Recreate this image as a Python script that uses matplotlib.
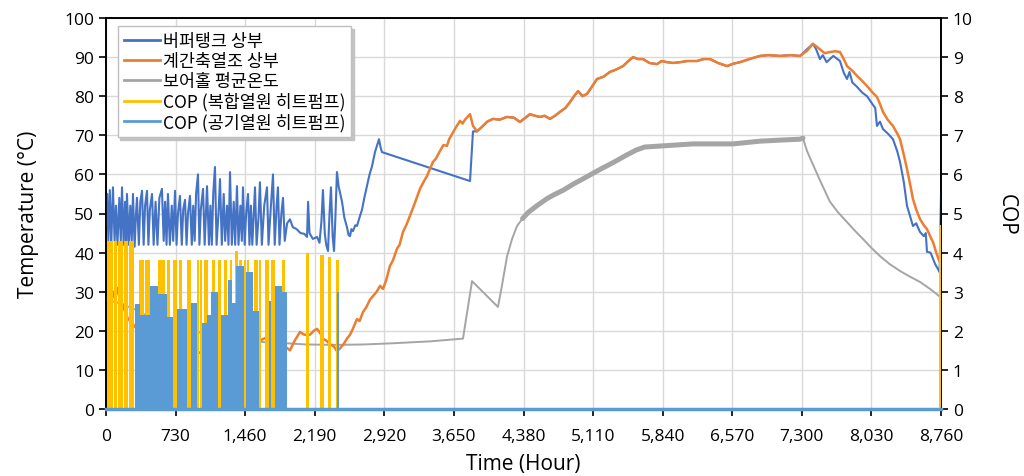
import numpy as np
import matplotlib.pyplot as plt
from matplotlib.lines import Line2D

# hourly temperatures (hour, degC)
buffer_hours = [0, 12, 25, 40, 55, 73, 90, 105, 120, 140, 155, 168, 185, 200, 212, 220, 240, 255, 270, 283,
                300, 315, 325, 345, 360, 378, 395, 410, 430, 445, 460, 483, 500, 520, 540, 560, 587, 605, 620, 635,
                650, 670, 690, 705, 724, 740, 755, 776, 795, 810, 829, 845, 860, 881, 900, 915, 930, 945, 965, 980,
                995, 1018, 1035, 1060, 1080, 1095, 1110, 1125, 1143, 1160, 1180, 1196, 1215, 1235, 1250, 1270, 1285, 1301, 1320, 1340,
                1355, 1374, 1390, 1410, 1425, 1437, 1455, 1470, 1490, 1505, 1520, 1535, 1563, 1580, 1600, 1615, 1635, 1660, 1689, 1705,
                1725, 1752, 1770, 1790, 1804, 1820, 1840, 1857, 1875, 1900, 1930, 1960, 2000, 2040, 2080, 2109, 2120, 2135, 2170, 2214,
                2240, 2260, 2276, 2295, 2310, 2329, 2345, 2360, 2378, 2392, 2405, 2423, 2440, 2476, 2500, 2528, 2545, 2560, 2575, 2591,
                2615, 2633, 2660, 2686, 2710, 2738, 2765, 2790, 2822, 2864, 2880, 2895, 3819, 3850, 3892, 3955, 4000, 4060, 4130, 4207,
                4280, 4343, 4400, 4448, 4500, 4553, 4600, 4658, 4710, 4763, 4820, 4868, 4910, 4952, 5000, 5046, 5100, 5151, 5220, 5287,
                5350, 5424, 5480, 5529, 5580, 5634, 5700, 5780, 5830, 5885, 5950, 6022, 6100, 6200, 6270, 6337, 6420, 6515, 6580, 6651,
                6750, 6861, 6950, 7071, 7180, 7281, 7312, 7354, 7417, 7450, 7490, 7520, 7560, 7595, 7630, 7700, 7740, 7774, 7800, 7830,
                7879, 7930, 7984, 8040, 8070, 8088, 8120, 8151, 8200, 8256, 8300, 8330, 8370, 8403, 8440, 8466, 8500, 8539, 8580, 8600,
                8613, 8650, 8676, 8700, 8728, 8745, 8760]
buffer_temp = [47, 55, 43, 56, 42, 56.7, 43, 52, 42, 54, 43, 56.7, 42, 53, 43, 55, 42, 52, 43, 55,
               41.5, 50, 54, 42, 53, 55.8, 42, 52, 55.8, 42, 51, 55, 42, 53, 42, 54, 56.3, 43, 53, 42,
               55, 42, 52, 43, 55.8, 42, 50, 54.5, 42, 51, 53.5, 42, 50, 54.5, 42, 52, 43, 55, 60, 42,
               51, 56.3, 42, 57, 42, 52, 42, 55, 61.9, 42, 50, 58.8, 42, 55, 43, 52, 42, 60.6, 42, 53,
               42, 57, 42, 52, 43, 56.7, 42, 50, 55, 42, 52, 42, 56.7, 42, 49, 58, 42, 52, 56.7, 42,
               50, 60, 42, 52, 56.7, 42, 50, 54, 43, 47.5, 48.5, 46.5, 46, 45, 44.8, 44, 53, 45, 43.5, 44,
               42.5, 48, 56, 45, 42, 40.4, 50, 56.7, 44, 40.4, 48, 60.6, 57, 53, 49, 46.5, 44.5, 44.2, 46, 45.5,
               47, 46.8, 49, 51, 54, 57, 60, 62, 65.7, 69, 67, 65.7, 58.3, 71, 71, 72.4, 73.5, 74.2, 74, 74.7,
               74.5, 73.4, 74.5, 75.4, 75, 74.7, 75, 74.2, 75, 76, 77, 78.5, 80, 81.3, 80, 80.6, 82.5, 84.4, 85, 86.2,
               86.8, 87.7, 89, 90, 89.5, 89.5, 88.5, 88.2, 89, 88.7, 88.5, 88.7, 89, 89, 89.5, 89.5, 88.5, 87.7, 88.3, 88.7,
               89.5, 90.3, 90.5, 90.3, 90.5, 90.3, 91, 92, 93.4, 92, 89.5, 90.5, 88.7, 89.5, 90.3, 89, 86, 84.4, 86.2, 83.5,
               82.4, 81, 80, 78, 77, 72.4, 73.5, 71.6, 70.5, 69, 66, 63.2, 58, 52, 49, 46.8, 47.5, 45.3, 44.2, 45,
               40.2, 40, 38.4, 37, 35.8, 35, 55]

storage_hours = [0, 25, 42, 60, 73, 95, 110, 126, 150, 168, 200, 231, 260, 304, 380, 462, 560, 671, 750, 829,
                 880, 934, 990, 1039, 1090, 1143, 1220, 1301, 1380, 1458, 1530, 1615, 1700, 1773, 1830, 1878, 1930, 1980, 2035, 2080,
                 2140, 2180, 2214, 2245, 2276, 2310, 2350, 2390, 2423, 2455, 2490, 2528, 2560, 2590, 2633, 2660, 2696, 2730, 2770, 2801,
                 2840, 2875, 2906, 2940, 2979, 3010, 3053, 3080, 3116, 3150, 3189, 3230, 3260, 3294, 3330, 3368, 3400, 3431, 3460, 3504,
                 3540, 3577, 3600, 3630, 3670, 3714, 3740, 3766, 3819, 3850, 3892, 3955, 4000, 4060, 4130, 4207, 4280, 4343, 4400, 4448,
                 4500, 4553, 4600, 4658, 4710, 4763, 4820, 4868, 4910, 4952, 5000, 5046, 5100, 5151, 5220, 5287, 5350, 5424, 5480, 5529,
                 5580, 5634, 5700, 5780, 5830, 5885, 5950, 6022, 6100, 6200, 6270, 6337, 6420, 6515, 6580, 6651, 6750, 6861, 6950, 7071,
                 7180, 7281, 7354, 7417, 7490, 7540, 7595, 7650, 7700, 7740, 7774, 7830, 7879, 7930, 7984, 8040, 8088, 8120, 8151, 8200,
                 8256, 8300, 8330, 8370, 8403, 8440, 8466, 8500, 8539, 8580, 8613, 8650, 8676, 8710, 8740]
storage_temp = [28, 29, 30.5, 29, 30, 28, 29.5, 31, 28, 27, 25, 23, 22.5, 21, 20, 19, 18, 17, 16, 15.5,
                16, 14, 14.5, 13.5, 14.5, 15, 14.5, 15.5, 16, 16.5, 17, 17.5, 18.5, 18, 17, 16, 15, 17.5, 19.7, 19,
                19, 20, 20.5, 19.5, 18, 17.5, 16.6, 16, 14.8, 15.5, 16.5, 18, 19, 20.5, 23, 22.5, 24.8, 26, 28, 28.9,
                30, 31.5, 30.7, 33, 36.6, 38, 41, 42, 45.3, 47, 49.4, 52, 54, 56.3, 58, 59.6, 61.5, 63.2, 64, 66,
                67.5, 67.3, 69, 70.3, 72, 73.7, 73, 74, 75.4, 72.4, 71, 72.4, 73.5, 74.2, 74, 74.7, 74.5, 73.4, 74.5, 75.4,
                75, 74.7, 75, 74.2, 75, 76, 77, 78.5, 80, 81.3, 80, 80.6, 82.5, 84.4, 85, 86.2, 86.8, 87.7, 89, 90,
                89.5, 89.5, 88.5, 88.2, 89, 88.7, 88.5, 88.7, 89, 89, 89.5, 89.5, 88.5, 87.7, 88.3, 88.7, 89.5, 90.3, 90.5, 90.3,
                90.5, 90.3, 91.6, 93.4, 92, 91, 91.3, 91.5, 91.3, 89.5, 87.7, 86.5, 85.2, 84, 82.6, 81, 79.8, 78, 76, 74,
                72.4, 70.5, 69, 65, 61.4, 57, 53.7, 51, 48.6, 47, 46, 44, 42.7, 40, 38]

borehole_hours = [0, 150, 300, 500, 700, 900, 1100, 1300, 1500, 1700, 1900, 2100, 2400, 2700, 3000, 3400, 3745, 3840, 4112, 4150,
                  4207, 4260, 4312, 4370, 4430, 4521, 4626, 4700, 4800, 4900, 5000, 5110, 5200, 5319, 5450, 5560, 5650, 5843, 6158, 6577,
                  6861, 7100, 7281, 7312, 7354, 7417, 7490, 7595, 7680, 7774, 7860, 7941, 8030, 8120, 8220, 8330, 8430, 8539, 8640, 8740]
borehole_temp = [28, 27, 25.5, 23, 21.5, 20, 19, 18.3, 17.5, 17, 16.8, 16.5, 16.4, 16.5, 16.8, 17.3, 18, 32.7, 26.1, 31,
                 39, 43.5, 46.8, 48.7, 50.3, 52, 53.8, 54.8, 56, 57.5, 58.8, 60.3, 61.5, 63, 64.8, 66.2, 67, 67.3, 67.8, 67.8,
                 68.5, 68.8, 69, 69.3, 66, 62.5, 58.5, 53, 50.3, 47.8, 45.5, 43.5, 41.2, 39.1, 37.1, 35.3, 33.9, 32.5, 30.8, 28.9]

# heat pump operating periods: start hour, end hour, COP
hybrid_start = [10, 80, 125, 185, 240, 350, 405, 550, 645, 708, 770, 855, 950, 983, 1025, 1108, 1170, 1233, 1296, 1350,
                1400, 1443, 1475, 1548, 1600, 1672, 1736, 1850, 2095, 2250, 2324, 2410, 8742]
hybrid_end = [73, 118, 180, 234, 296, 400, 465, 622, 676, 750, 800, 895, 980, 1010, 1075, 1148, 1210, 1272, 1326, 1390,
              1430, 1472, 1505, 1590, 1630, 1705, 1768, 1882, 2132, 2290, 2362, 2446, 8760]
hybrid_cop = [4.3, 4.3, 4.3, 4.3, 4.3, 3.8, 3.8, 3.8, 3.8, 3.8, 3.8, 3.8, 3.8, 3.8, 3.8, 3.8, 3.8, 3.8, 3.8, 4.05,
              3.8, 3.8, 3.8, 3.8, 3.8, 3.8, 3.8, 3.8, 4.0, 3.95, 3.9, 3.8, 4.7]

air_start = [304, 357, 462, 546, 640, 750, 895, 1010, 1060, 1100, 1210, 1280, 1322, 1364, 1472, 1542, 1705, 1768, 1846, 2423]
air_end = [357, 462, 546, 640, 708, 855, 950, 1060, 1100, 1170, 1280, 1322, 1364, 1443, 1542, 1600, 1736, 1846, 1899, 2446]
air_cop = [2.68, 2.4, 3.15, 2.95, 2.35, 2.55, 2.7, 2.2, 2.4, 3.0, 2.4, 3.3, 2.7, 3.65, 3.5, 2.5, 2.75, 3.15, 3.0, 3.0]

x_ticks = [0, 730, 1460, 2190, 2920, 3650, 4380, 5110, 5840, 6570, 7300, 8030, 8760]
labels = ['버퍼탱크 상부', '계간축열조 상부', '보어홀 평균온도', 'COP (복합열원 히트펌프)', 'COP (공기열원 히트펌프)']

c_buffer = '#4472C4'
c_storage = '#ED7D31'
c_bore = '#A5A5A5'
c_hybrid = '#FFC000'
c_air = '#5B9BD5'

plt.rcParams['font.family'] = ['Open Sans', 'DejaVu Sans']

fig = plt.figure(figsize=(10.24, 4.77), dpi=100)
ax = fig.add_axes([106 / 1024, 67 / 477, 835 / 1024, 391 / 477])
ax2 = ax.twinx()

bh = np.array(borehole_hours)
bt = np.array(borehole_temp)
ax.plot(buffer_hours, buffer_temp, color=c_buffer, lw=1.5, zorder=3)
ax.plot(storage_hours, storage_temp, color=c_storage, lw=1.8, zorder=4)
ax.plot(bh, bt, color=c_bore, lw=1.4, zorder=2)
# daily swing makes the borehole trace a band once the field is charged
band = (bh >= 4370) & (bh <= 7312)
ax.plot(bh[band], bt[band], color=c_bore, lw=3.6, solid_capstyle='round', zorder=2)

hs = np.array(hybrid_start)
ax2.bar(hs, hybrid_cop, width=np.array(hybrid_end) - hs, align='edge', color=c_hybrid, lw=0, zorder=3)
As = np.array(air_start)
ax2.bar(As, air_cop, width=np.array(air_end) - As, align='edge', color=c_air, lw=0, zorder=4)
ax2.axhline(0, color=c_air, lw=2.5, zorder=5, clip_on=False)

ax.set_xlim(0, 8760)
ax.set_ylim(0, 100)
ax2.set_ylim(0, 10)
ax.set_xticks(x_ticks)
ax.set_xticklabels([f'{v:,}' for v in x_ticks])
ax.set_yticks(range(0, 101, 10))
ax2.set_yticks(range(0, 11))
ax.grid(True, color='#D9D9D9', lw=1)
ax.set_axisbelow(True)

for a in (ax, ax2):
    for s in a.spines.values():
        s.set_color('black')
        s.set_linewidth(1.2)
    a.tick_params(direction='out', length=5, width=1.2, labelsize=12.5, colors='black')
ax.tick_params(axis='x', pad=9)
ax.spines['bottom'].set_color('#44546A')

ax.set_ylabel('Temperature (°C)', fontsize=15, labelpad=18)
ax2.set_ylabel('COP', fontsize=15, rotation=270, labelpad=32)
ax.set_xlabel('Time (Hour)', fontsize=15, labelpad=6)

handles = [Line2D([], [], color=c, lw=2) for c in (c_buffer, c_storage, c_bore, c_hybrid, c_air)]
leg = ax2.legend(handles, labels, loc='upper left', bbox_to_anchor=(0.014, 0.98), frameon=True, fancybox=False,
                 shadow={'color': '#BFBFBF', 'alpha': 0.9}, edgecolor='#BFBFBF', handlelength=2.1, handletextpad=0.15,
                 labelspacing=0.12, borderpad=0.35, borderaxespad=0,
                 prop={'family': ['Noto Sans CJK KR', 'DejaVu Sans'], 'size': 12.5})
leg.get_frame().set_linewidth(1)
leg.set_zorder(10)

fig.savefig('out.png', dpi=100)
